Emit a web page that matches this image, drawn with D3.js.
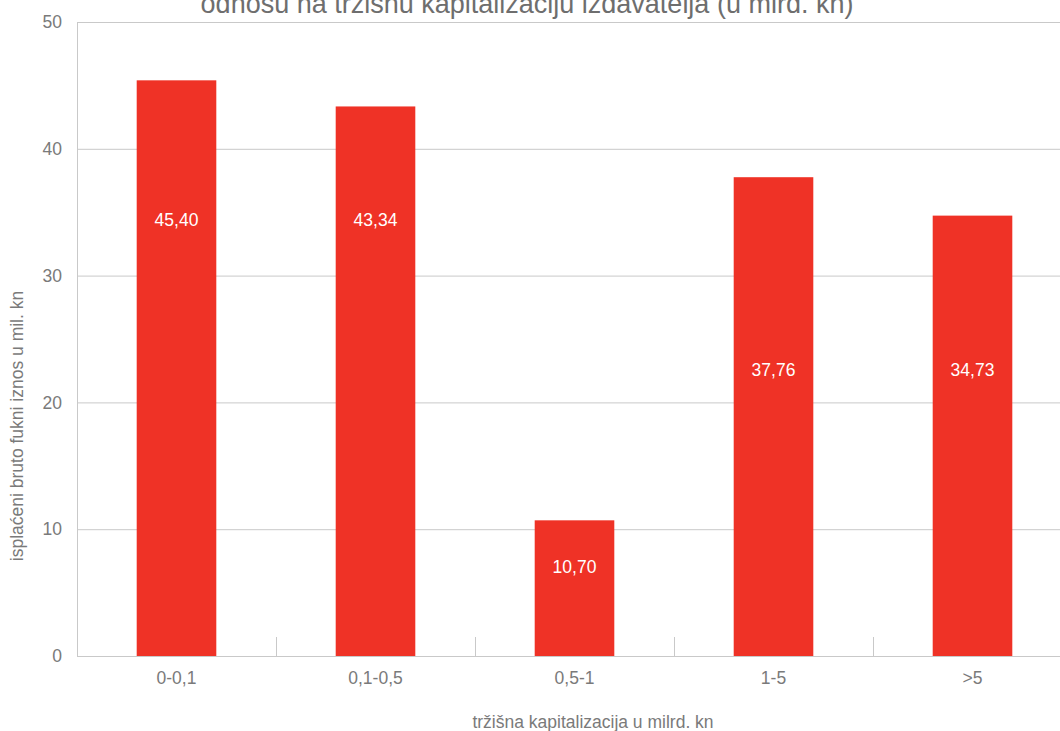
<!DOCTYPE html>
<html>
<head>
<meta charset="utf-8">
<script src="https://cdn.jsdelivr.net/npm/d3@7"></script>
<style>
  html, body { margin: 0; padding: 0; background: #fff; }
  svg { display: block; font-family: "Liberation Sans", Arial, sans-serif; }
</style>
</head>
<body>
<svg id="chart" width="1060" height="731"></svg>
<script>
// Market-cap brackets and gross paid amounts (mil. kn)
const categories = ["0-0,1", "0,1-0,5", "0,5-1", "1-5", ">5"];
const values = [45.40, 43.34, 10.70, 37.76, 34.73];
const yTicks = [0, 10, 20, 30, 40, 50];

const titleText = "odnosu na tržišnu kapitalizaciju izdavatelja (u mlrd. kn)";
const yTitle = "isplaćeni bruto fukni iznos u mil. kn";
const xTitle = "tržišna kapitalizacija u milrd. kn";

(function () {
  const svg = d3.select("#chart");
  const plotLeft = 77, plotRight = 1072, plotTop = 22, plotBottom = 656;
  const grid = "#c9c9c9", textCol = "#7a7a7a", red = "#ef3226";
  const fs = 17.5;

  const x = d3.scaleBand().domain(categories).range([plotLeft, plotRight])
    .paddingInner(0.6).paddingOuter(0.3);
  const y = d3.scaleLinear().domain([0, 50]).range([plotBottom, plotTop]);

  // horizontal gridlines
  svg.append("g").selectAll("line").data(yTicks).join("line")
    .attr("x1", plotLeft).attr("x2", 1060)
    .attr("y1", d => y(d) + 0.5).attr("y2", d => y(d) + 0.5)
    .attr("stroke", grid).attr("stroke-width", 1);

  // vertical axis line
  svg.append("line").attr("x1", plotLeft + 0.5).attr("x2", plotLeft + 0.5)
    .attr("y1", plotTop).attr("y2", plotBottom + 1).attr("stroke", grid);

  // y tick labels
  const yAxis = d3.axisLeft(y).tickValues(yTicks).tickSize(0).tickPadding(15)
    .tickFormat(d3.format("d"));
  const gy = svg.append("g").attr("transform", `translate(${plotLeft},0)`).call(yAxis);
  gy.select(".domain").remove();
  gy.selectAll("text").attr("font-size", fs).attr("fill", textCol)
    .attr("font-family", "Liberation Sans, Arial, sans-serif");

  // bars
  svg.append("g").selectAll("rect").data(values).join("rect")
    .attr("x", (d, i) => x(categories[i]))
    .attr("width", x.bandwidth())
    .attr("y", d => y(d))
    .attr("height", d => y(0) - y(d))
    .attr("fill", red);

  // category separators at the baseline
  const step = x.step();
  svg.append("g").selectAll("line").data(categories.slice(1)).join("line")
    .attr("x1", d => x(d) - step * 0.3 + 0.5)
    .attr("x2", d => x(d) - step * 0.3 + 0.5)
    .attr("y1", plotBottom - 19).attr("y2", plotBottom)
    .attr("stroke", grid);

  // x tick labels
  const xAxis = d3.axisBottom(x).tickSize(0).tickPadding(16);
  const gx = svg.append("g").attr("transform", `translate(0,${plotBottom})`).call(xAxis);
  gx.select(".domain").remove();
  gx.selectAll("text").attr("font-size", fs).attr("fill", textCol)
    .attr("font-family", "Liberation Sans, Arial, sans-serif");

  // value labels inside bars
  const labelLevels = [34.4, 34.4, 7.0, 22.6, 22.6];
  svg.append("g").selectAll("text").data(values).join("text")
    .attr("x", (d, i) => x(categories[i]) + x.bandwidth() / 2)
    .attr("y", (d, i) => y(labelLevels[i]))
    .attr("dy", "0.35em")
    .attr("text-anchor", "middle")
    .attr("font-size", fs).attr("fill", "#fff")
    .text(d => d.toFixed(2).replace(".", ","));

  // axis titles
  svg.append("text")
    .attr("transform", "translate(23,426) rotate(-90)")
    .attr("text-anchor", "middle").attr("font-size", fs).attr("fill", textCol)
    .text(yTitle);

  svg.append("text")
    .attr("x", 593).attr("y", 728)
    .attr("text-anchor", "middle").attr("font-size", fs).attr("fill", textCol)
    .text(xTitle);

  // chart title (second line)
  svg.append("text")
    .attr("x", 527).attr("y", 13)
    .attr("text-anchor", "middle").attr("font-size", 27).attr("fill", "#6e6e6e")
    .text(titleText);
})();
</script>
</body>
</html>
